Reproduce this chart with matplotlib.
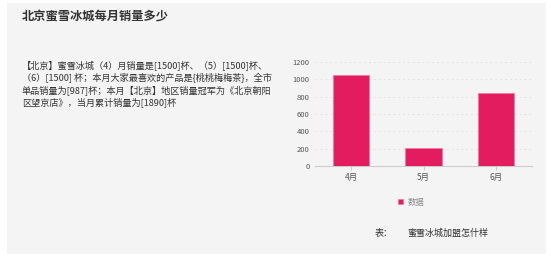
import matplotlib.pyplot as plt
from matplotlib.patches import Rectangle

plt.rcParams['font.family'] = ['Noto Sans CJK SC', 'DejaVu Sans']

months = ['4月', '5月', '6月']
sales = [1045, 210, 840]
yticks = [0, 200, 400, 600, 800, 1000, 1200]

title = '北京蜜雪冰城每月销量多少'
body_lines = [
    '【北京】蜜雪冰城（4）月销量是[1500]杯、（5）[1500]杯、',
    '（6）[1500] 杯；本月大家最喜欢的产品是{桃桃梅梅茶}，全市',
    '单品销量为[987]杯；本月【北京】地区销量冠军为《北京朝阳',
    '区望京店》，当月累计销量为[1890]杯',
]

W, H = 551, 260
fig = plt.figure(figsize=(W / 100, H / 100), dpi=100)
fig.patch.set_facecolor('white')

# grey panel behind everything
fig.patches.append(Rectangle((7 / W, 1 - 254 / H), 539 / W, 251 / H,
                             transform=fig.transFigure, facecolor='#f4f4f4',
                             edgecolor='none', zorder=-10))

fig.text(22 / W, 1 - 17 / H, title, fontsize=8.8, fontweight='bold',
         color='#333333', va='center', ha='left')

for i, line in enumerate(body_lines):
    fig.text(22 / W, 1 - (66 + i * 12) / H, line, fontsize=6.6,
             color='#333333', va='center', ha='left')

ax = fig.add_axes([315 / W, 1 - 166 / H, 217 / W, 104 / H])
ax.set_facecolor('none')
bars = ax.bar(range(len(months)), sales, width=0.5, color='#e31c5f',
              edgecolor='#f07aa0', linewidth=0.6, label='数据', zorder=3)
ax.set_xlim(-0.5, 2.5)
ax.set_ylim(0, 1200)
ax.set_yticks(yticks)
ax.set_yticklabels([str(v) for v in yticks], fontsize=5.5, color='#555555')
ax.set_xticks(range(len(months)))
ax.set_xticklabels(months, fontsize=6, color='#555555')
ax.yaxis.grid(True, linestyle=(0, (2, 3)), color='#e2e2e2', linewidth=0.7)
ax.set_axisbelow(True)
for s in ['top', 'right', 'left']:
    ax.spines[s].set_visible(False)
ax.spines['bottom'].set_color('#cccccc')
ax.tick_params(axis='y', length=0, pad=4)
ax.tick_params(axis='x', length=3, color='#cccccc', pad=2)

fig.legend(handles=[bars], labels=['数据'], loc='center',
           bbox_to_anchor=(411 / W, 1 - 202 / H), frameon=False,
           fontsize=6, handlelength=0.6, handleheight=0.6, handletextpad=0.6,
           labelcolor='#888888')

fig.text(375 / W, 1 - 233 / H, '表：', fontsize=6.5, color='#333333',
         va='center', ha='left')
fig.text(407 / W, 1 - 233 / H, '蜜雪冰城加盟怎什样', fontsize=6.5,
         color='#333333', va='center', ha='left')

fig.savefig('out.png', dpi=100)
